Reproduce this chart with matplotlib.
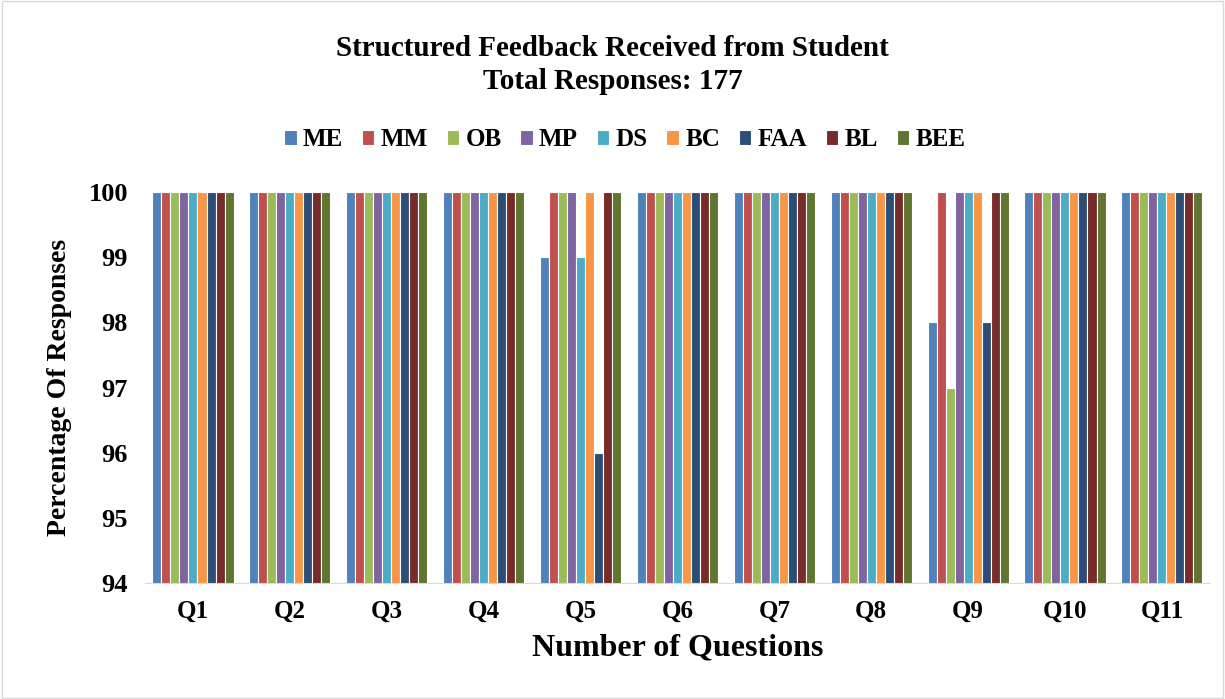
import numpy as np
import matplotlib
matplotlib.use("Agg")
import matplotlib.pyplot as plt
from matplotlib.patches import Rectangle

plt.rcParams["font.family"] = ["Liberation Serif", "DejaVu Serif"]
plt.rcParams["font.weight"] = "bold"

questions = ["Q1", "Q2", "Q3", "Q4", "Q5", "Q6", "Q7", "Q8", "Q9", "Q10", "Q11"]
series = ["ME", "MM", "OB", "MP", "DS", "BC", "FAA", "BL", "BEE"]
colors = ["#4f81bd", "#c0504d", "#9bbb59", "#8064a2", "#4bacc6",
          "#f79646", "#2c4d75", "#772c2a", "#5f7530"]

# percentage per series (rows) per question (columns)
ME  = [100, 100, 100, 100, 99,  100, 100, 100, 98,  100, 100]
MM  = [100, 100, 100, 100, 100, 100, 100, 100, 100, 100, 100]
OB  = [100, 100, 100, 100, 100, 100, 100, 100, 97,  100, 100]
MP  = [100, 100, 100, 100, 100, 100, 100, 100, 100, 100, 100]
DS  = [100, 100, 100, 100, 99,  100, 100, 100, 100, 100, 100]
BC  = [100, 100, 100, 100, 100, 100, 100, 100, 100, 100, 100]
FAA = [100, 100, 100, 100, 96,  100, 100, 100, 98,  100, 100]
BL  = [100, 100, 100, 100, 100, 100, 100, 100, 100, 100, 100]
BEE = [100, 100, 100, 100, 100, 100, 100, 100, 100, 100, 100]
values = [ME, MM, OB, MP, DS, BC, FAA, BL, BEE]

fig = plt.figure(figsize=(12.25, 6.99), dpi=100)
ax = fig.add_axes([0.118, 0.166, 0.870, 0.559])

x = np.arange(len(questions))
n = len(series)
w = 0.093
for i, (name, vals, c) in enumerate(zip(series, values, colors)):
    ax.bar(x + (i - (n - 1) / 2) * w, vals, width=w, color=c,
           edgecolor="white", linewidth=0.8, label=name)

ax.set_ylim(94, 100)
ax.set_xlim(-0.5, len(questions) - 0.5)
ax.set_yticks(range(94, 101))
ax.set_xticks(x)
ax.set_xticklabels(questions, fontsize=18, fontweight="bold")
ax.tick_params(axis="y", labelsize=19, length=0, pad=12)
ax.tick_params(axis="x", length=0, pad=12)
for lbl in ax.get_yticklabels():
    lbl.set_fontweight("bold")
for s in ["top", "right", "left"]:
    ax.spines[s].set_visible(False)
ax.spines["bottom"].set_color("#d9d9d9")

ax.set_ylabel("Percentage Of Responses", fontsize=20, fontweight="bold", labelpad=12)
ax.set_xlabel("Number of Questions", fontsize=23, fontweight="bold", labelpad=8)

fig.text(0.5, 0.907, "Structured Feedback Received from Student\nTotal Responses: 177",
         ha="center", va="center", fontsize=21, fontweight="bold", linespacing=1.25)

fig.legend(loc="center", bbox_to_anchor=(0.51, 0.80), ncol=9, frameon=False,
           prop={"size": 18, "weight": "bold"}, handlelength=0.5, handleheight=0.5,
           columnspacing=0.75, handletextpad=0.25)

fig.patches.append(Rectangle((0.002, 0.002), 0.996, 0.996, transform=fig.transFigure,
                             fill=False, edgecolor="#d9d9d9", linewidth=1))

fig.savefig("out.png", dpi=100)
